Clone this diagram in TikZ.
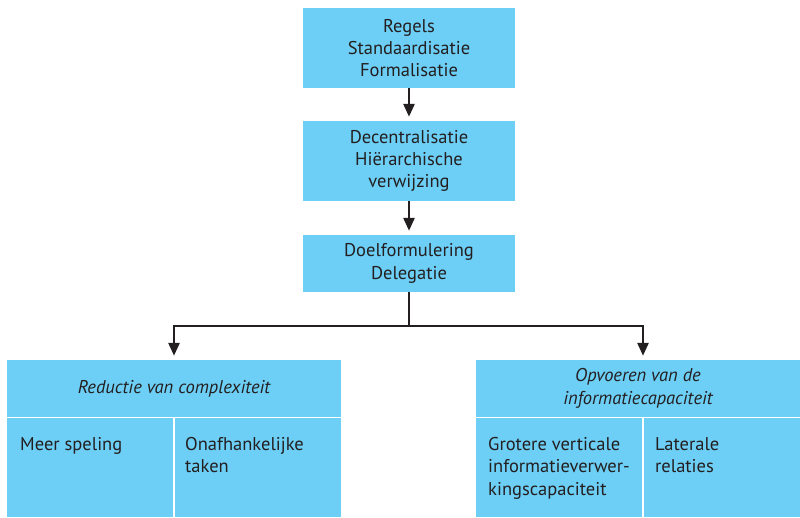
\documentclass[tikz,border=0pt]{standalone}
\usepackage{fontspec}
\setmainfont{PT Sans}
\usetikzlibrary{arrows.meta}
\definecolor{boxblue}{HTML}{6DCFF6}
\definecolor{ink}{HTML}{231F20}
\begin{document}
\begin{tikzpicture}[x=1pt,y=-1pt,
  txt/.style={font=\fontsize{18.5}{22.4}\selectfont, text=ink},
  box/.style={txt, fill=boxblue, draw=none, inner sep=0pt, align=center},
  head/.style={box, font=\fontsize{18.5}{22.4}\selectfont\itshape},
  cell/.style={fill=boxblue, draw=none, inner sep=0pt},
  celltext/.style={txt, inner sep=0pt, align=left, anchor=north west},
  divider/.style={white, line width=1.4pt},
  flow/.style={draw=ink, line width=2.6pt, -{Triangle[width=11pt,length=13pt]}, shorten >=4pt}]
\useasboundingbox (0,0) rectangle (800,517);

% central chain of coordination mechanisms
\node[box, minimum width=212pt, minimum height=80pt] (rules) at (409,48) {Regels\\Standaardisatie\\Formalisatie};
\node[box, minimum width=212pt, minimum height=80pt] (decen) at (409,161) {Decentralisatie\\Hiërarchische\\verwijzing};
\node[box, minimum width=212pt, minimum height=57pt] (goal) at (409,263.5) {Doelformulering\\Delegatie};

% left block: reduction of complexity
\node[head, minimum width=334pt, minimum height=57pt] (lhead) at (174,388.5) {Reductie van complexiteit};
\node[cell, minimum width=167pt, minimum height=100pt, anchor=north west] (lc1) at (7,417) {};
\node[cell, minimum width=167pt, minimum height=100pt, anchor=north west] (lc2) at (174,417) {};
\node[celltext] (lt1) at ([shift={(13,20)}]lc1.north west) {Meer speling};
\node[celltext] (lt2) at ([shift={(11,20)}]lc2.north west) {Onafhankelijke\\taken};

% right block: increasing information capacity
\node[head, minimum width=324pt, minimum height=57pt] (rhead) at (638,388.5) {Opvoeren van de\\informatiecapaciteit};
\node[cell, minimum width=167pt, minimum height=100pt, anchor=north west] (rc1) at (476,417) {};
\node[cell, minimum width=157pt, minimum height=100pt, anchor=north west] (rc2) at (643,417) {};
\node[celltext] (rt1) at ([shift={(12,20)}]rc1.north west) {Grotere verticale\\informatieverwer-\\kingscapaciteit};
\node[celltext] (rt2) at ([shift={(12,20)}]rc2.north west) {Laterale\\relaties};

% white separators between the cells
\draw[divider] (lhead.south west) -- (lhead.south east);
\draw[divider] (lc2.north west) -- (lc2.south west);
\draw[divider] (rhead.south west) -- (rhead.south east);
\draw[divider] (rc2.north west) -- (rc2.south west);

% connectors
\draw[flow] (rules) -- (decen);
\draw[flow] (decen) -- (goal);
\coordinate (fork) at (409,326);
\draw[draw=ink, line width=2.6pt] (goal.south) -- (fork);
\draw[flow] (fork) -| (lc2.west |- lhead.north);
\draw[flow] (fork) -| (rc2.west |- rhead.north);
\end{tikzpicture}
\end{document}
